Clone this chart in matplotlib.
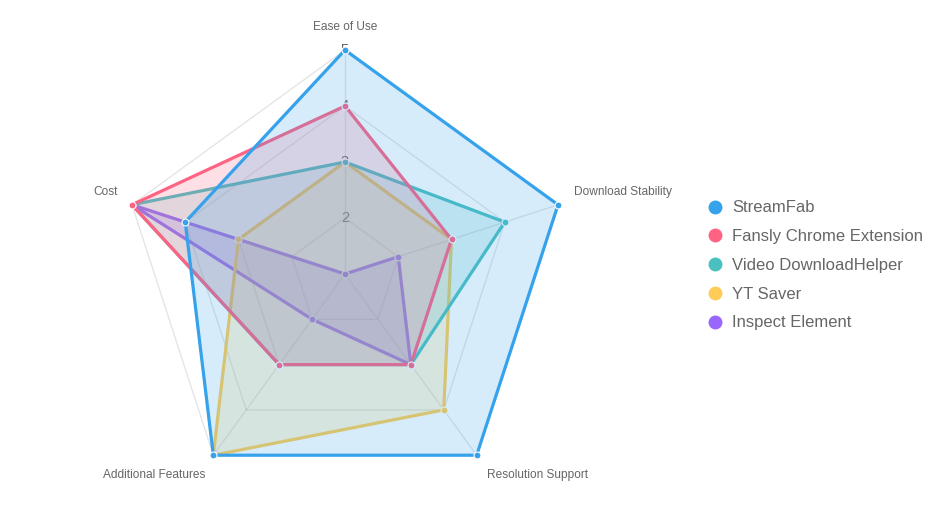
import numpy as np
import matplotlib
matplotlib.use('Agg')
from matplotlib import pyplot as plt
from matplotlib.lines import Line2D

plt.rcParams['font.family'] = ['Liberation Sans', 'DejaVu Sans']

axes_names = ['Ease of Use', 'Download Stability', 'Resolution Support', 'Additional Features', 'Cost']
series_names = ['StreamFab', 'Fansly Chrome Extension', 'Video DownloadHelper', 'YT Saver', 'Inspect Element']
streamfab = [5, 5, 5, 5, 4]
fansly = [4, 3, 3, 3, 5]
video_dh = [3, 4, 3, 3, 5]
yt_saver = [3, 3, 4, 5, 3]
inspect_el = [1, 2, 3, 2, 5]
rings = [2, 3, 4, 5]

colores = ['#36A2EB', '#FF6384', '#4BC0C0', '#FFCD56', '#9966FF']
valores = [streamfab, fansly, video_dh, yt_saver, inspect_el]

fig = plt.figure(figsize=(9.34, 5.16), dpi=100)
ax = fig.add_axes([121/934, 18/516, 448/934, 448/516], projection='polar')
ax.set_theta_offset(np.pi/2)
ax.set_theta_direction(-1)
ax.set_ylim(1, 5)
ax.set_axis_off()

n = len(axes_names)
ang = np.linspace(0, 2*np.pi, n, endpoint=False)
ang_c = np.append(ang, ang[0])

# rejilla pentagonal
grid_col = (0, 0, 0, 0.1)
for r in rings:
    ax.plot(ang_c, [r]*(n+1), color=grid_col, lw=1, zorder=1, clip_on=False)
for a in ang:
    ax.plot([a, a], [1, 5], color=grid_col, lw=1, zorder=1, clip_on=False)

# etiquetas de la escala
for r in rings:
    ax.text(0, r, str(r), ha='center', va='center', fontsize=10.5, color='#666666', zorder=2)

# datos (el primero queda arriba)
for i in range(len(valores) - 1, -1, -1):
    v = np.append(valores[i], valores[i][0])
    z = 10 + (len(valores) - i) * 3
    ax.fill(ang_c, v, color=colores[i], alpha=0.2, lw=0, zorder=z, clip_on=False)
    ax.plot(ang_c, v, color=colores[i], lw=2.3, solid_joinstyle='miter', zorder=z+1, clip_on=False)
    ax.plot(ang, valores[i], 'o', color=colores[i], ms=5, mec='white', mew=0.8, zorder=z+2, clip_on=False)

# nombres de los ejes
offs = [(0, 23, 'center'), (16, 13, 'left'), (10, -20, 'left'), (-8, -20, 'right'), (-14, 13, 'right')]
for a, nom, (dx, dy, ha) in zip(ang, axes_names, offs):
    ax.annotate(nom, xy=(a, 5), xytext=(dx, dy), textcoords='offset pixels',
                ha=ha, va='center', fontsize=8.6, color='#666666', annotation_clip=False)

handles = [Line2D([], [], marker='o', ls='', color=c, ms=9) for c in colores]
leg = fig.legend(handles, series_names, loc='upper left', bbox_to_anchor=(708.3/934, (516-200.5)/516),
                 frameon=False, fontsize=12, handlelength=0.8, handletextpad=0.62,
                 labelspacing=0.825, borderpad=0, borderaxespad=0)
for t in leg.get_texts():
    t.set_color('#666666')

plt.savefig('out.png', dpi=100, facecolor='white')
